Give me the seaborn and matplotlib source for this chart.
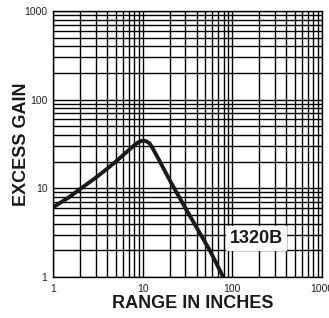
import matplotlib
matplotlib.use('Agg')
import matplotlib.pyplot as plt
import pandas as pd
import seaborn as sns
from matplotlib.ticker import LogLocator, FixedLocator, NullFormatter

# Curve (range in inches vs excess gain)
range_in = [1, 1.5, 2, 3, 4, 5, 6, 7, 8, 9, 10, 11, 12, 13, 15, 20, 26, 40, 56, 79]
gain = [6.1, 7.9, 9.8, 13.2, 16.6, 20.0, 23.5, 27.0, 30.5, 33.3, 34.6, 34.0, 32.0, 28.0, 21.5,
        12.4, 7.7, 3.6, 2.0, 1.0]

tick_vals = [1, 10, 100, 1000]
tick_labels = ['1', '10', '100', '1000']
model_label = '1320B'

df = pd.DataFrame({'range': range_in, 'gain': gain})

sns.set_style('white')
plt.rcParams['font.family'] = ['Liberation Sans', 'DejaVu Sans']

fig = plt.figure(figsize=(3.29, 3.18), dpi=100)
ax = fig.add_axes([0.161, 0.129, 0.818, 0.836])

ax.set_xscale('log')
ax.set_yscale('log')
ax.set_xlim(1, 1000)
ax.set_ylim(1, 1000)

# Dense log grid
ax.xaxis.set_major_locator(FixedLocator(tick_vals))
ax.yaxis.set_major_locator(FixedLocator(tick_vals))
ax.xaxis.set_minor_locator(LogLocator(base=10, subs=range(2, 10)))
ax.yaxis.set_minor_locator(LogLocator(base=10, subs=range(2, 10)))
ax.xaxis.set_minor_formatter(NullFormatter())
ax.yaxis.set_minor_formatter(NullFormatter())
ax.set_xticklabels(tick_labels)
ax.set_yticklabels(tick_labels)
ax.grid(True, which='both', color='black', linewidth=1.0)
ax.tick_params(which='both', length=0, labelsize=7.5, colors='#222222')
ax.tick_params(axis='x', pad=5)
ax.tick_params(axis='y', pad=4)

for s in ax.spines.values():
    s.set_color('black')
    s.set_linewidth(1.0)

sns.lineplot(data=df, x='range', y='gain', ax=ax, color='#1a1a1a',
             linewidth=2.8, sort=False)

ax.text(185, 2.7, model_label, fontsize=13, fontweight='bold',
        ha='center', va='center', color='#1a1a1a',
        bbox=dict(facecolor='white', edgecolor='none', pad=3))

ax.set_xlabel('RANGE IN INCHES', fontsize=13, fontweight='bold', color='#1a1a1a')
ax.set_ylabel('EXCESS GAIN', fontsize=13, fontweight='bold', color='#1a1a1a')
ax.xaxis.set_label_coords(0.52, -0.068)
ax.yaxis.set_label_coords(-0.085, 0.5)

fig.savefig('out.png', dpi=100)
